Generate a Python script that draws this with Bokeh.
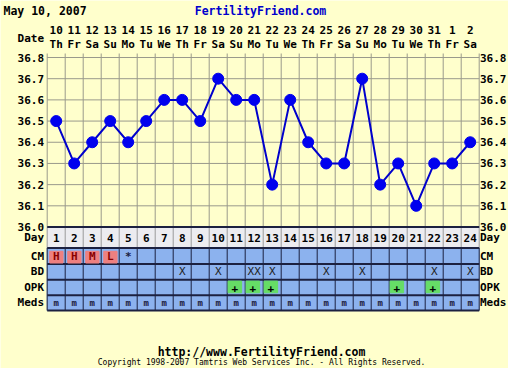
from bokeh.plotting import figure
from bokeh.models import Range1d
from bokeh.core.properties import value
from bokeh.embed import file_html
from bokeh.resources import INLINE

# ---------------- data ----------------
title_text = "May 10, 2007"
site_text = "FertilityFriend.com"
footer_url = "http://www.FertilityFriend.com"
footer_copy = "Copyright 1998-2007 Tamtris Web Services Inc. - All Rights Reserved."

cycle_days = list(range(1, 25))
dates = ["10", "11", "12", "13", "14", "15", "16", "17", "18", "19", "20", "21",
         "22", "23", "24", "25", "26", "27", "28", "29", "30", "31", "1", "2"]
weekdays = ["Th", "Fr", "Sa", "Su", "Mo", "Tu", "We", "Th", "Fr", "Sa", "Su", "Mo",
            "Tu", "We", "Th", "Fr", "Sa", "Su", "Mo", "Tu", "We", "Th", "Fr", "Sa"]
temps = [36.5, 36.3, 36.4, 36.5, 36.4, 36.5, 36.6, 36.6, 36.5, 36.7, 36.6, 36.6,
         36.2, 36.6, 36.4, 36.3, 36.3, 36.7, 36.2, 36.3, 36.1, 36.3, 36.3, 36.4]
temp_ticks = [36.0, 36.1, 36.2, 36.3, 36.4, 36.5, 36.6, 36.7, 36.8]
header_name = "Date"
row_names = ["Day", "CM", "BD", "OPK", "Meds"]

cm_days = [1, 2, 3, 4, 5]
cm_marks = ["H", "H", "M", "L", "*"]
cm_red_days = [1, 2, 3, 4]
bd_days = [8, 10, 12, 13, 16, 18, 22, 24]
bd_marks = ["X", "X", "XX", "X", "X", "X", "X", "X"]
opk_days = [11, 12, 13, 20, 22]
opk_marks = ["+", "+", "+", "+", "+"]
meds_marks = ["m"] * 24

# ---------------- layout (page pixel positions) ----------------
W, H = 508, 368
COL = 18.0
DAY1_PX = 55.7                       # centre of the first day column
Y368, Y360 = 57.0, 226.5             # pixel rows of 36.8 and 36.0
K = (Y360 - Y368) / 0.8              # pixels per degree
LEFT_LBL, RIGHT_LBL = 43.5, 479.5


def tx(px):
    return 1 + (px - DAY1_PX) / COL


def ty(py):
    return 36.8 - (py - Y368) / K


ROW_EDGES = [226.5, 247.5, 263.5, 279.3, 294.7, 310.0]
row_mid = [(a + b) / 2 for a, b in zip(ROW_EDGES[:-1], ROW_EDGES[1:])]

BG = "#FFFFCC"
FONT = value("DejaVu Sans Mono")
DARK = "#1c2140"
GRID = "#9a9a8c"

p = figure(width=W, height=H, x_range=Range1d(tx(0), tx(W)), y_range=Range1d(ty(H), ty(0)),
           output_backend="svg", toolbar_location=None, title=None,
           x_axis_location=None, y_axis_location=None,
           min_border_left=0, min_border_right=0, min_border_top=0, min_border_bottom=0)
p.background_fill_color = BG
p.border_fill_color = BG
p.outline_line_color = None
p.xgrid.visible = False
p.ygrid.visible = False

bounds = [i + 0.5 for i in range(25)]
x_lo, x_hi = bounds[0], bounds[-1]

# chart grid
p.segment(x0=bounds, x1=bounds, y0=[36.0] * 25, y1=[ty(Y368 - 4)] * 25, line_color=GRID, line_width=1)
p.segment(x0=[x_lo] * 9, x1=[x_hi] * 9, y0=temp_ticks, y1=temp_ticks, line_color=GRID, line_width=1)

bold = dict(text_font=FONT, text_font_style="bold", text_font_size="11px", text_color="#000000",
            text_baseline="middle")

# temperature scale labels, both sides
p.text(x=[tx(LEFT_LBL)] * 9, y=temp_ticks, text=[f"{t:.1f}" for t in temp_ticks], text_align="right", **bold)
p.text(x=[tx(RIGHT_LBL)] * 9, y=temp_ticks, text=[f"{t:.1f}" for t in temp_ticks], text_align="left", **bold)
# row names, both sides
p.text(x=[tx(LEFT_LBL)] * 5, y=[ty(m) for m in row_mid], text=row_names, text_align="right", **bold)
p.text(x=[tx(RIGHT_LBL)] * 5, y=[ty(m) for m in row_mid], text=row_names, text_align="left", **bold)
p.text(x=[tx(LEFT_LBL)], y=[ty(38)], text=[header_name], text_align="right", **bold)

# date header
p.text(x=cycle_days, y=[ty(29)] * 24, text=dates, text_align="center", **bold)
p.text(x=cycle_days, y=[ty(44)] * 24, text=weekdays, text_align="center", **bold)

# title line
p.text(x=[tx(3)], y=[ty(10)], text=[title_text], text_font=FONT, text_font_style="bold",
       text_font_size="11.5px", text_color="#000000", text_align="left", text_baseline="middle")
p.text(x=[tx(260)], y=[ty(10)], text=[site_text], text_font=FONT, text_font_style="bold",
       text_font_size="11.5px", text_color="#0000CC", text_align="center", text_baseline="middle")

# table
e = [ty(v) for v in ROW_EDGES]
p.quad(left=[x_lo], right=[x_hi], bottom=[e[1]], top=[e[0]], color="#ECECF0")
p.quad(left=[x_lo], right=[x_hi], bottom=[e[5]], top=[e[1]], color="#8CB2EE")
p.segment(x0=bounds, x1=bounds, y0=[e[1]] * 25, y1=[e[0]] * 25, line_color="#9a9a9a", line_width=1)
p.segment(x0=bounds, x1=bounds, y0=[e[5]] * 25, y1=[e[1]] * 25, line_color=DARK, line_width=1)
p.segment(x0=[x_lo] * 6, x1=[x_hi] * 6, y0=e, y1=e, line_color=DARK, line_width=2)

p.quad(left=[d - 0.36 for d in cm_red_days], right=[d + 0.38 for d in cm_red_days],
       bottom=[ty(262.5)] * 4, top=[ty(250.8)] * 4, color="#EE8080")
p.quad(left=[d - 0.45 for d in opk_days], right=[d + 0.3 for d in opk_days],
       bottom=[ty(292.3)] * 5, top=[ty(280.6)] * 5, color="#66DD66")

p.text(x=cycle_days, y=[ty(row_mid[0])] * 24, text=[str(d) for d in cycle_days],
       text_align="center", **bold)
p.text(x=cm_days, y=[ty(row_mid[1])] * 5, text=cm_marks, text_font=FONT, text_font_style="bold",
       text_font_size="11px", text_color=["#880000"] * 4 + [DARK], text_align="center",
       text_baseline="middle")
p.text(x=bd_days, y=[ty(row_mid[2])] * len(bd_days), text=bd_marks, text_font=FONT,
       text_font_size="11px", text_color="#222222", text_align="center", text_baseline="middle")
p.text(x=[d - 0.08 for d in opk_days], y=[ty(row_mid[3])] * 5, text=opk_marks,
       text_align="center", **bold)
p.text(x=cycle_days, y=[ty(row_mid[4])] * 24, text=meds_marks, text_font=FONT, text_font_size="9px",
       text_font_style="bold", text_color=DARK, text_align="center", text_baseline="middle")

# temperature line
p.line(cycle_days, temps, line_color="#0000CC", line_width=2)
p.scatter(cycle_days, temps, size=11, fill_color="#0000EE", line_color="#0000EE")

# footer
p.text(x=[tx(261)], y=[ty(351)], text=[footer_url], text_font=FONT, text_font_style="bold",
       text_font_size="11.5px", text_color="#000000", text_align="center", text_baseline="middle")
p.text(x=[tx(261)], y=[ty(362)], text=[footer_copy], text_font=FONT, text_font_size="8px",
       text_color="#000000", text_align="center", text_baseline="middle")

open("out.html", "w").write(file_html(p, INLINE))
